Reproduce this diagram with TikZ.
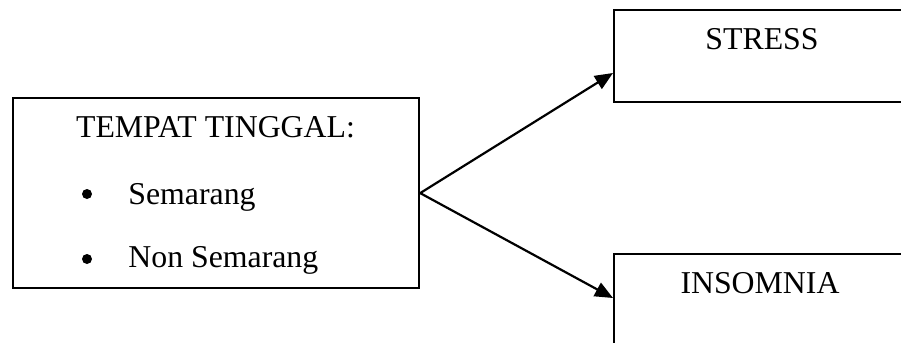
\documentclass[tikz,border=0pt]{standalone}
\usepackage{fontspec}
\setmainfont{Liberation Serif}
\usetikzlibrary{arrows.meta}
\begin{document}
\begin{tikzpicture}[x=0.5pt,y=-0.5pt,
  box/.style={draw=black,line width=1.1pt,rectangle,inner sep=0pt,anchor=north west},
  txt/.style={inner sep=0pt,anchor=base,font=\fontsize{15.9}{19}\selectfont},
  ltxt/.style={inner sep=0pt,anchor=base west,font=\fontsize{15.9}{19}\selectfont},
  dot/.style={circle,fill=black,inner sep=0pt,minimum size=5pt},
  arr/.style={line width=1.1pt,-{Triangle[length=9pt,width=7.5pt]}}]
\useasboundingbox (0,0) rectangle (901,343);
\clip (0,0) rectangle (901,343);
\node[box,minimum width=203pt,minimum height=95pt] (left) at (12,97) {};
\node[box,minimum width=160pt,minimum height=46pt] (stress) at (613,9) {};
\node[box,minimum width=160pt,minimum height=60pt] (insomnia) at (613,253) {};
\node[txt] (t1) at (215.5,137) {TEMPAT TINGGAL:};
\node[dot] (b1) at (87,194) {};
\node[ltxt] (s1) at (128,204) {Semarang};
\node[dot] (b2) at (87,259) {};
\node[ltxt] (s2) at (128,267) {Non Semarang};
\node[txt] (ts) at (762,49) {STRESS};
\node[txt] (ti) at (760,293) {INSOMNIA};
\coordinate (st) at (613,73);
\coordinate (in) at (613,298);
\draw[arr] (left.east) -- (st);
\draw[arr] (left.east) -- (in);
\end{tikzpicture}
\end{document}
